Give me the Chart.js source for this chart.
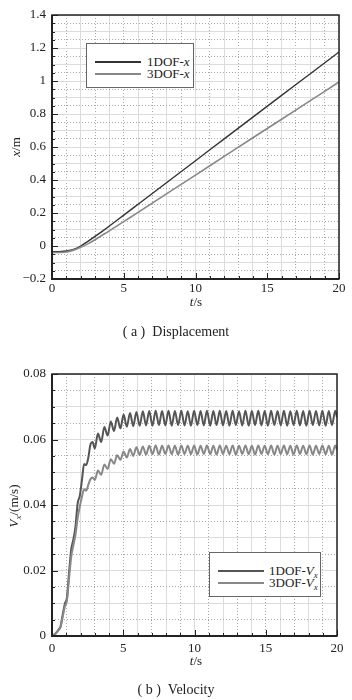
<!DOCTYPE html>
<html>
<head>
<meta charset="utf-8">
<script src="https://cdn.jsdelivr.net/npm/chart.js@4.4.1/dist/chart.umd.min.js"></script>
<style>
  html, body { margin: 0; padding: 0; background: #fff; }
  body { width: 352px; height: 700px; position: relative; overflow: hidden;
         font-family: 'Liberation Serif', 'Times New Roman', serif; color: #222; }
  .wrap { position: absolute; left: 0; width: 352px; }
  #wrapA { top: 0; height: 310px; }
  #wrapB { top: 350px; height: 320px; }
  .txt { position: absolute; font-size: 13px; white-space: nowrap; line-height: 1; }
  .rot { transform: translate(-50%, -50%) rotate(-90deg); }
  .ctr { transform: translate(-50%, -50%); }
  .cap { font-size: 14px; }
  .legend { position: absolute; border: 1px solid #666; background: #fff; }
  .legend .row { position: absolute; left: 0; right: 0; height: 12px; }
  .legend .ln { position: absolute; height: 2px; }
  .legend .lb { position: absolute; font-size: 13px; line-height: 12px; white-space: nowrap; }
  sub { font-size: 9px; vertical-align: -3px; line-height: 0; }
</style>
</head>
<body>
<div class="wrap" id="wrapA"><canvas id="chartDisp" width="352" height="310"></canvas></div>
<div class="wrap" id="wrapB"><canvas id="chartVel" width="352" height="320"></canvas></div>

<div class="txt rot" style="left:15px; top:147px;"><i>x</i>/m</div>
<div class="txt ctr" style="left:196px; top:301px;"><i>t</i>/s</div>
<div class="txt ctr cap" style="left:176px; top:332px;">( a )&nbsp;&nbsp;Displacement</div>

<div class="txt rot" style="left:13px; top:506px;"><i>V</i><sub><i>x</i></sub>/(m/s)</div>
<div class="txt ctr" style="left:196px; top:660px;"><i>t</i>/s</div>
<div class="txt ctr cap" style="left:176px; top:690px;">( b )&nbsp;&nbsp;Velocity</div>

<div class="legend" style="left:86px; top:43px; width:106px; height:43px;">
  <div class="row" style="top:12px;">
    <div class="ln" style="left:8px; width:46px; top:5px; background:#333;"></div>
    <div class="lb" style="left:60px;">1DOF-<i>x</i></div>
  </div>
  <div class="row" style="top:24px;">
    <div class="ln" style="left:8px; width:46px; top:5px; background:#888;"></div>
    <div class="lb" style="left:60px;">3DOF-<i>x</i></div>
  </div>
</div>

<div class="legend" style="left:209px; top:552px; width:110px; height:43px;">
  <div class="row" style="top:12px;">
    <div class="ln" style="left:8px; width:46px; top:5px; background:#555;"></div>
    <div class="lb" style="left:59px;">1DOF-<i>V</i><sub><i>x</i></sub></div>
  </div>
  <div class="row" style="top:24px;">
    <div class="ln" style="left:8px; width:46px; top:5px; background:#888;"></div>
    <div class="lb" style="left:59px;">3DOF-<i>V</i><sub><i>x</i></sub></div>
  </div>
</div>

<script>
(function () {
    'use strict';

    // displacement x (m) against t (s)
    var dispTime = [0, 0.5, 1, 1.5, 2, 2.5, 3, 3.5, 4, 5, 6, 8, 10, 12, 14, 16, 18, 20];
    var disp1dof = [-0.035, -0.034, -0.03, -0.02, 0.0, 0.028, 0.058, 0.089, 0.121, 0.187, 0.253, 0.385, 0.517, 0.649, 0.781, 0.913, 1.044, 1.176];
    var disp3dof = [-0.04, -0.039, -0.036, -0.025, -0.008, 0.013, 0.038, 0.065, 0.092, 0.148, 0.204, 0.317, 0.43, 0.543, 0.656, 0.768, 0.881, 0.994];

    // velocity Vx (m/s) against t (s)
    var velTime = [0, 0.25, 0.5, 0.6, 0.75, 0.9, 1.05, 1.2, 1.35, 1.5, 1.65, 1.8, 1.95, 2.1, 2.25, 2.4, 2.55, 2.7, 2.85, 3.0,
        3.225, 3.45, 3.675, 3.9, 4.125, 4.35, 4.575, 4.8, 5.025, 5.25, 5.475, 5.7, 5.925, 6.15, 6.375, 6.6, 6.825, 7.05,
        7.275, 7.5, 7.725, 7.95, 8.175, 8.4, 8.625, 8.85, 9.075, 9.3, 9.525, 9.75, 9.975, 10.2, 10.425, 10.65, 10.875,
        11.1, 11.325, 11.55, 11.775, 12.0, 12.225, 12.45, 12.675, 12.9, 13.125, 13.35, 13.575, 13.8, 14.025, 14.25,
        14.475, 14.7, 14.925, 15.15, 15.375, 15.6, 15.825, 16.05, 16.275, 16.5, 16.725, 16.95, 17.175, 17.4, 17.625,
        17.85, 18.075, 18.3, 18.525, 18.75, 18.975, 19.2, 19.425, 19.65, 19.875, 20];
    var vel1dof = [0, 0.0008, 0.0022, 0.003, 0.0065, 0.0098, 0.0118, 0.0195, 0.0265, 0.0295, 0.0335, 0.0405, 0.0428, 0.0475, 0.0525, 0.0522, 0.0545, 0.0585, 0.0592, 0.0572,
        0.0618, 0.0592, 0.0638, 0.0612, 0.0655, 0.0626, 0.0667, 0.0634, 0.0676, 0.0639, 0.0681, 0.0641, 0.0684, 0.0642,
        0.0686, 0.0643, 0.0687, 0.0642, 0.0688, 0.0644, 0.0687, 0.0643, 0.0688, 0.0642, 0.0687, 0.0644, 0.0688, 0.0643,
        0.0686, 0.0642, 0.0688, 0.0644, 0.0687, 0.0643, 0.0688, 0.0642, 0.0687, 0.0644, 0.0688, 0.0643, 0.0687, 0.0642,
        0.0688, 0.0644, 0.0686, 0.0643, 0.0688, 0.0642, 0.0687, 0.0644, 0.0688, 0.0643, 0.0687, 0.0642, 0.0688, 0.0644,
        0.0687, 0.0643, 0.0688, 0.0642, 0.0686, 0.0644, 0.0688, 0.0643, 0.0687, 0.0642, 0.0688, 0.0644, 0.0687, 0.0643,
        0.0688, 0.0642, 0.0687, 0.0644, 0.0688, 0.0668];
    var vel3dof = [0, 0.0007, 0.002, 0.0027, 0.0058, 0.009, 0.0108, 0.0178, 0.0242, 0.0278, 0.031, 0.036, 0.0395, 0.0425, 0.0448, 0.0444, 0.0462, 0.0479, 0.0484, 0.0476,
        0.0505, 0.0492, 0.0524, 0.051, 0.054, 0.0526, 0.0552, 0.0538, 0.0563, 0.0545, 0.0571, 0.055, 0.0576, 0.0553,
        0.0579, 0.0554, 0.0581, 0.0555, 0.0582, 0.0554, 0.0581, 0.0556, 0.0582, 0.0555, 0.0581, 0.0554, 0.0582, 0.0556,
        0.0581, 0.0555, 0.0582, 0.0554, 0.0581, 0.0556, 0.0582, 0.0555, 0.0581, 0.0554, 0.0582, 0.0556, 0.0581, 0.0555,
        0.0582, 0.0554, 0.0581, 0.0556, 0.0582, 0.0555, 0.0581, 0.0554, 0.0582, 0.0556, 0.0581, 0.0555, 0.0582, 0.0554,
        0.0581, 0.0556, 0.0582, 0.0555, 0.0581, 0.0554, 0.0582, 0.0556, 0.0581, 0.0555, 0.0582, 0.0554, 0.0581, 0.0556,
        0.0582, 0.0555, 0.0581, 0.0554, 0.0582, 0.0568];

    Chart.defaults.font.family = "'Liberation Serif', 'Times New Roman', serif";
    Chart.defaults.font.size = 13;
    Chart.defaults.color = '#222';

    var ink = '#222';
    var gridSolid = '#dcdcdc';
    var gridDot = '#a8a8a8';

    function pts(xs, ys) {
        return xs.map(function (x, i) { return { x: x, y: ys[i] }; });
    }

    // frame box and inward tick marks
    var framePlugin = {
        id: 'frame',
        afterDatasetsDraw: function (chart) {
            var ctx = chart.ctx, a = chart.chartArea;
            var xs = chart.scales.x, ys = chart.scales.y;
            ctx.save();
            ctx.strokeStyle = ink;
            ctx.lineWidth = 1;
            ctx.beginPath();
            xs.ticks.forEach(function (t) {
                var px = Math.round(xs.getPixelForValue(t.value)) + 0.5;
                var len = t.label ? 6 : 3;
                ctx.moveTo(px, a.bottom);
                ctx.lineTo(px, a.bottom - len);
            });
            ys.ticks.forEach(function (t) {
                var py = Math.round(ys.getPixelForValue(t.value)) + 0.5;
                var len = t.label ? 6 : 3;
                ctx.moveTo(a.left, py);
                ctx.lineTo(a.left + len, py);
            });
            ctx.stroke();
            ctx.lineWidth = 1.5;
            ctx.strokeRect(a.left, a.top, a.right - a.left, a.bottom - a.top);
            ctx.lineWidth = 2;
            ctx.beginPath();
            ctx.moveTo(a.left, a.top);
            ctx.lineTo(a.left, a.bottom);
            ctx.lineTo(a.right, a.bottom);
            ctx.stroke();
            ctx.restore();
        }
    };

    function xAxis(height, pad) {
        return {
            type: 'linear', min: 0, max: 20,
            afterFit: function (s) { s.height = height; },
            ticks: {
                stepSize: 1, autoSkip: false, maxRotation: 0, padding: pad,
                callback: function (v) { return v % 5 === 0 ? String(v) : ''; }
            },
            grid: {
                drawTicks: false,
                color: function (c) { return c.tick && Math.abs(Math.round(c.tick.value)) % 2 === 1 ? gridDot : gridSolid; }
            },
            border: {
                display: false,
                dash: function (c) { return c.tick && Math.abs(Math.round(c.tick.value)) % 2 === 1 ? [1, 2] : []; }
            }
        };
    }

    function yAxis(min, max, step, labelEvery) {
        var per = Math.round(1 / step);
        function k(v) { return Math.round(v * per); }
        return {
            type: 'linear', min: min, max: max,
            afterFit: function (s) { s.width = 52; },
            ticks: {
                stepSize: step, autoSkip: false, padding: 6,
                callback: function (v) {
                    var n = k(v);
                    if (Math.abs(n) % labelEvery !== 0) return '';
                    return String(n / per).replace('-', '\u2212');
                }
            },
            grid: {
                drawTicks: false,
                color: function (c) { return c.tick && Math.abs(k(c.tick.value)) % 2 === 1 ? gridDot : gridSolid; }
            },
            border: {
                display: false,
                dash: function (c) { return c.tick && Math.abs(k(c.tick.value)) % 2 === 1 ? [1, 2] : []; }
            }
        };
    }

    new Chart(document.getElementById('chartDisp'), {
        type: 'line',
        data: {
            datasets: [
                { label: '3DOF-x', data: pts(dispTime, disp3dof), borderColor: '#888', borderWidth: 1.6,
                  pointRadius: 0, cubicInterpolationMode: 'monotone' },
                { label: '1DOF-x', data: pts(dispTime, disp1dof), borderColor: '#333', borderWidth: 1.4,
                  pointRadius: 0, cubicInterpolationMode: 'monotone' }
            ]
        },
        options: {
            responsive: false,
            animation: false,
            layout: { padding: { top: 15, right: 13, left: 0, bottom: 0 } },
            plugins: { legend: { display: false }, tooltip: { enabled: false } },
            scales: {
                x: xAxis(31, 2),
                y: yAxis(-0.2, 1.4, 0.05, 4)
            }
        },
        plugins: [framePlugin]
    });

    new Chart(document.getElementById('chartVel'), {
        type: 'line',
        data: {
            datasets: [
                { label: '3DOF-Vx', data: pts(velTime, vel3dof), borderColor: '#888', borderWidth: 2,
                  pointRadius: 0, cubicInterpolationMode: 'monotone' },
                { label: '1DOF-Vx', data: pts(velTime, vel1dof), borderColor: '#555', borderWidth: 2,
                  pointRadius: 0, cubicInterpolationMode: 'monotone' }
            ]
        },
        options: {
            responsive: false,
            animation: false,
            layout: { padding: { top: 24, right: 15, left: 0, bottom: 0 } },
            plugins: { legend: { display: false }, tooltip: { enabled: false } },
            scales: {
                x: xAxis(34, 5),
                y: yAxis(0, 0.08, 0.005, 4)
            }
        },
        plugins: [framePlugin]
    });
})();
</script>
</body>
</html>
